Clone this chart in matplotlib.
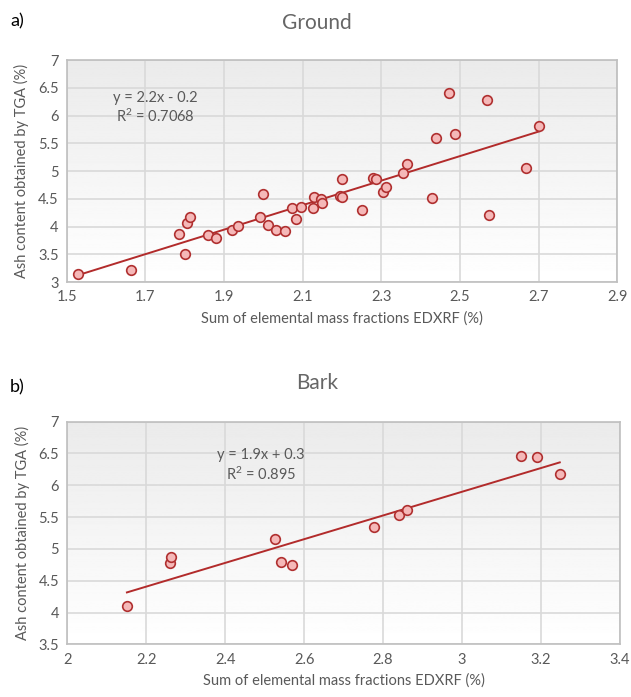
import numpy as np
import matplotlib.pyplot as plt

plt.rcParams['font.family'] = ['Lato', 'DejaVu Sans']

# a) Ground
ground_x = [1.529, 1.663, 1.785, 1.801, 1.805, 1.813, 1.858, 1.879, 1.920, 1.935,
            1.992, 1.998, 2.012, 2.032, 2.055, 2.074, 2.083, 2.096, 2.128, 2.127,
            2.147, 2.150, 2.200, 2.196, 2.200, 2.251, 2.280, 2.286, 2.304, 2.312,
            2.355, 2.366, 2.428, 2.438, 2.473, 2.488, 2.568, 2.573, 2.667, 2.702]
ground_y = [3.14, 3.22, 3.86, 3.50, 4.06, 4.17, 3.84, 3.79, 3.93, 4.01,
            4.18, 4.59, 4.03, 3.94, 3.92, 4.34, 4.14, 4.36, 4.53, 4.34,
            4.50, 4.42, 4.86, 4.55, 4.53, 4.30, 4.88, 4.86, 4.62, 4.72,
            4.96, 5.13, 4.51, 5.60, 6.40, 5.67, 6.28, 4.21, 5.05, 5.82]

# b) Bark
bark_x = [2.151, 2.259, 2.262, 2.526, 2.541, 2.570, 2.777, 2.841, 2.861, 3.149, 3.190, 3.248]
bark_y = [4.11, 4.78, 4.87, 5.16, 4.80, 4.74, 5.34, 5.53, 5.61, 6.46, 6.44, 6.18]

ground_xticks = [1.5, 1.7, 1.9, 2.1, 2.3, 2.5, 2.7, 2.9]
ground_yticks = [3, 3.5, 4, 4.5, 5, 5.5, 6, 6.5, 7]
bark_xticks = [2, 2.2, 2.4, 2.6, 2.8, 3, 3.2, 3.4]
bark_yticks = [3.5, 4, 4.5, 5, 5.5, 6, 6.5, 7]

TXT = '#595959'
GRID = '#d9d9d9'


def panel(ax, x, y, xticks, yticks, eq, eq_pos):
    x = np.array(x)
    y = np.array(y)
    # light gradient background like the Excel plot area
    grad = np.linspace(1.0, 0.92, 256).reshape(-1, 1)
    ax.imshow(grad, cmap='gray', vmin=0, vmax=1, aspect='auto',
              extent=[xticks[0], xticks[-1], yticks[-1], yticks[0]], zorder=0)
    ax.set_xlim(xticks[0], xticks[-1])
    ax.set_ylim(yticks[0], yticks[-1])
    ax.set_xticks(xticks)
    ax.set_yticks(yticks)
    ax.set_xticklabels([f'{t:g}' for t in xticks])
    ax.set_yticklabels([f'{t:g}' for t in yticks])
    ax.grid(True, color=GRID, lw=1.2, zorder=1)
    ax.set_axisbelow(True)
    for s in ax.spines.values():
        s.set_color('#bfbfbf')
        s.set_linewidth(1.2)
    ax.tick_params(length=0, colors=TXT, labelsize=10.5, pad=6)

    k, b = np.polyfit(x, y, 1)
    xs = np.array([x.min(), x.max()])
    ax.plot(xs, k * xs + b, color='#b22b2b', lw=1.4, zorder=3)
    ax.scatter(x, y, s=48, facecolor='#f5b8b8', edgecolor='#b03030', lw=1.2, zorder=4)

    ax.text(eq_pos[0], eq_pos[1], eq, transform=ax.transAxes, ha='center', va='top',
            color=TXT, fontsize=10.5, linespacing=1.2, zorder=5)
    ax.set_xlabel('Sum of elemental mass fractions EDXRF (%)', color=TXT, fontsize=10.5, labelpad=5)
    ax.set_ylabel('Ash content obtained by TGA (%)', color=TXT, fontsize=10.5, labelpad=6)


fig = plt.figure(figsize=(6.31, 6.97), dpi=100)
ax1 = fig.add_axes([0.106, 0.5954, 0.872, 0.3185])
ax2 = fig.add_axes([0.1067, 0.0756, 0.8755, 0.3194])

panel(ax1, ground_x, ground_y, ground_xticks, ground_yticks,
      'y = 2.2x - 0.2\n$\\mathregular{R^2}$ = 0.7068', (0.16, 0.86))
panel(ax2, bark_x, bark_y, bark_xticks, bark_yticks,
      'y = 1.9x + 0.3\n$\\mathregular{R^2}$ = 0.895', (0.35, 0.88))

fig.text(0.502, 1 - 23 / 697, 'Ground', color='#666666', fontsize=15, ha='center', va='center')
fig.text(0.502, 1 - 383 / 697, 'Bark', color='#666666', fontsize=15, ha='center', va='center')
fig.text(0.016, 0.97, 'a)', fontsize=13, color='black', va='center')
fig.text(0.016, 0.444, 'b)', fontsize=13, color='black', va='center')

fig.savefig('out.png', dpi=100)
